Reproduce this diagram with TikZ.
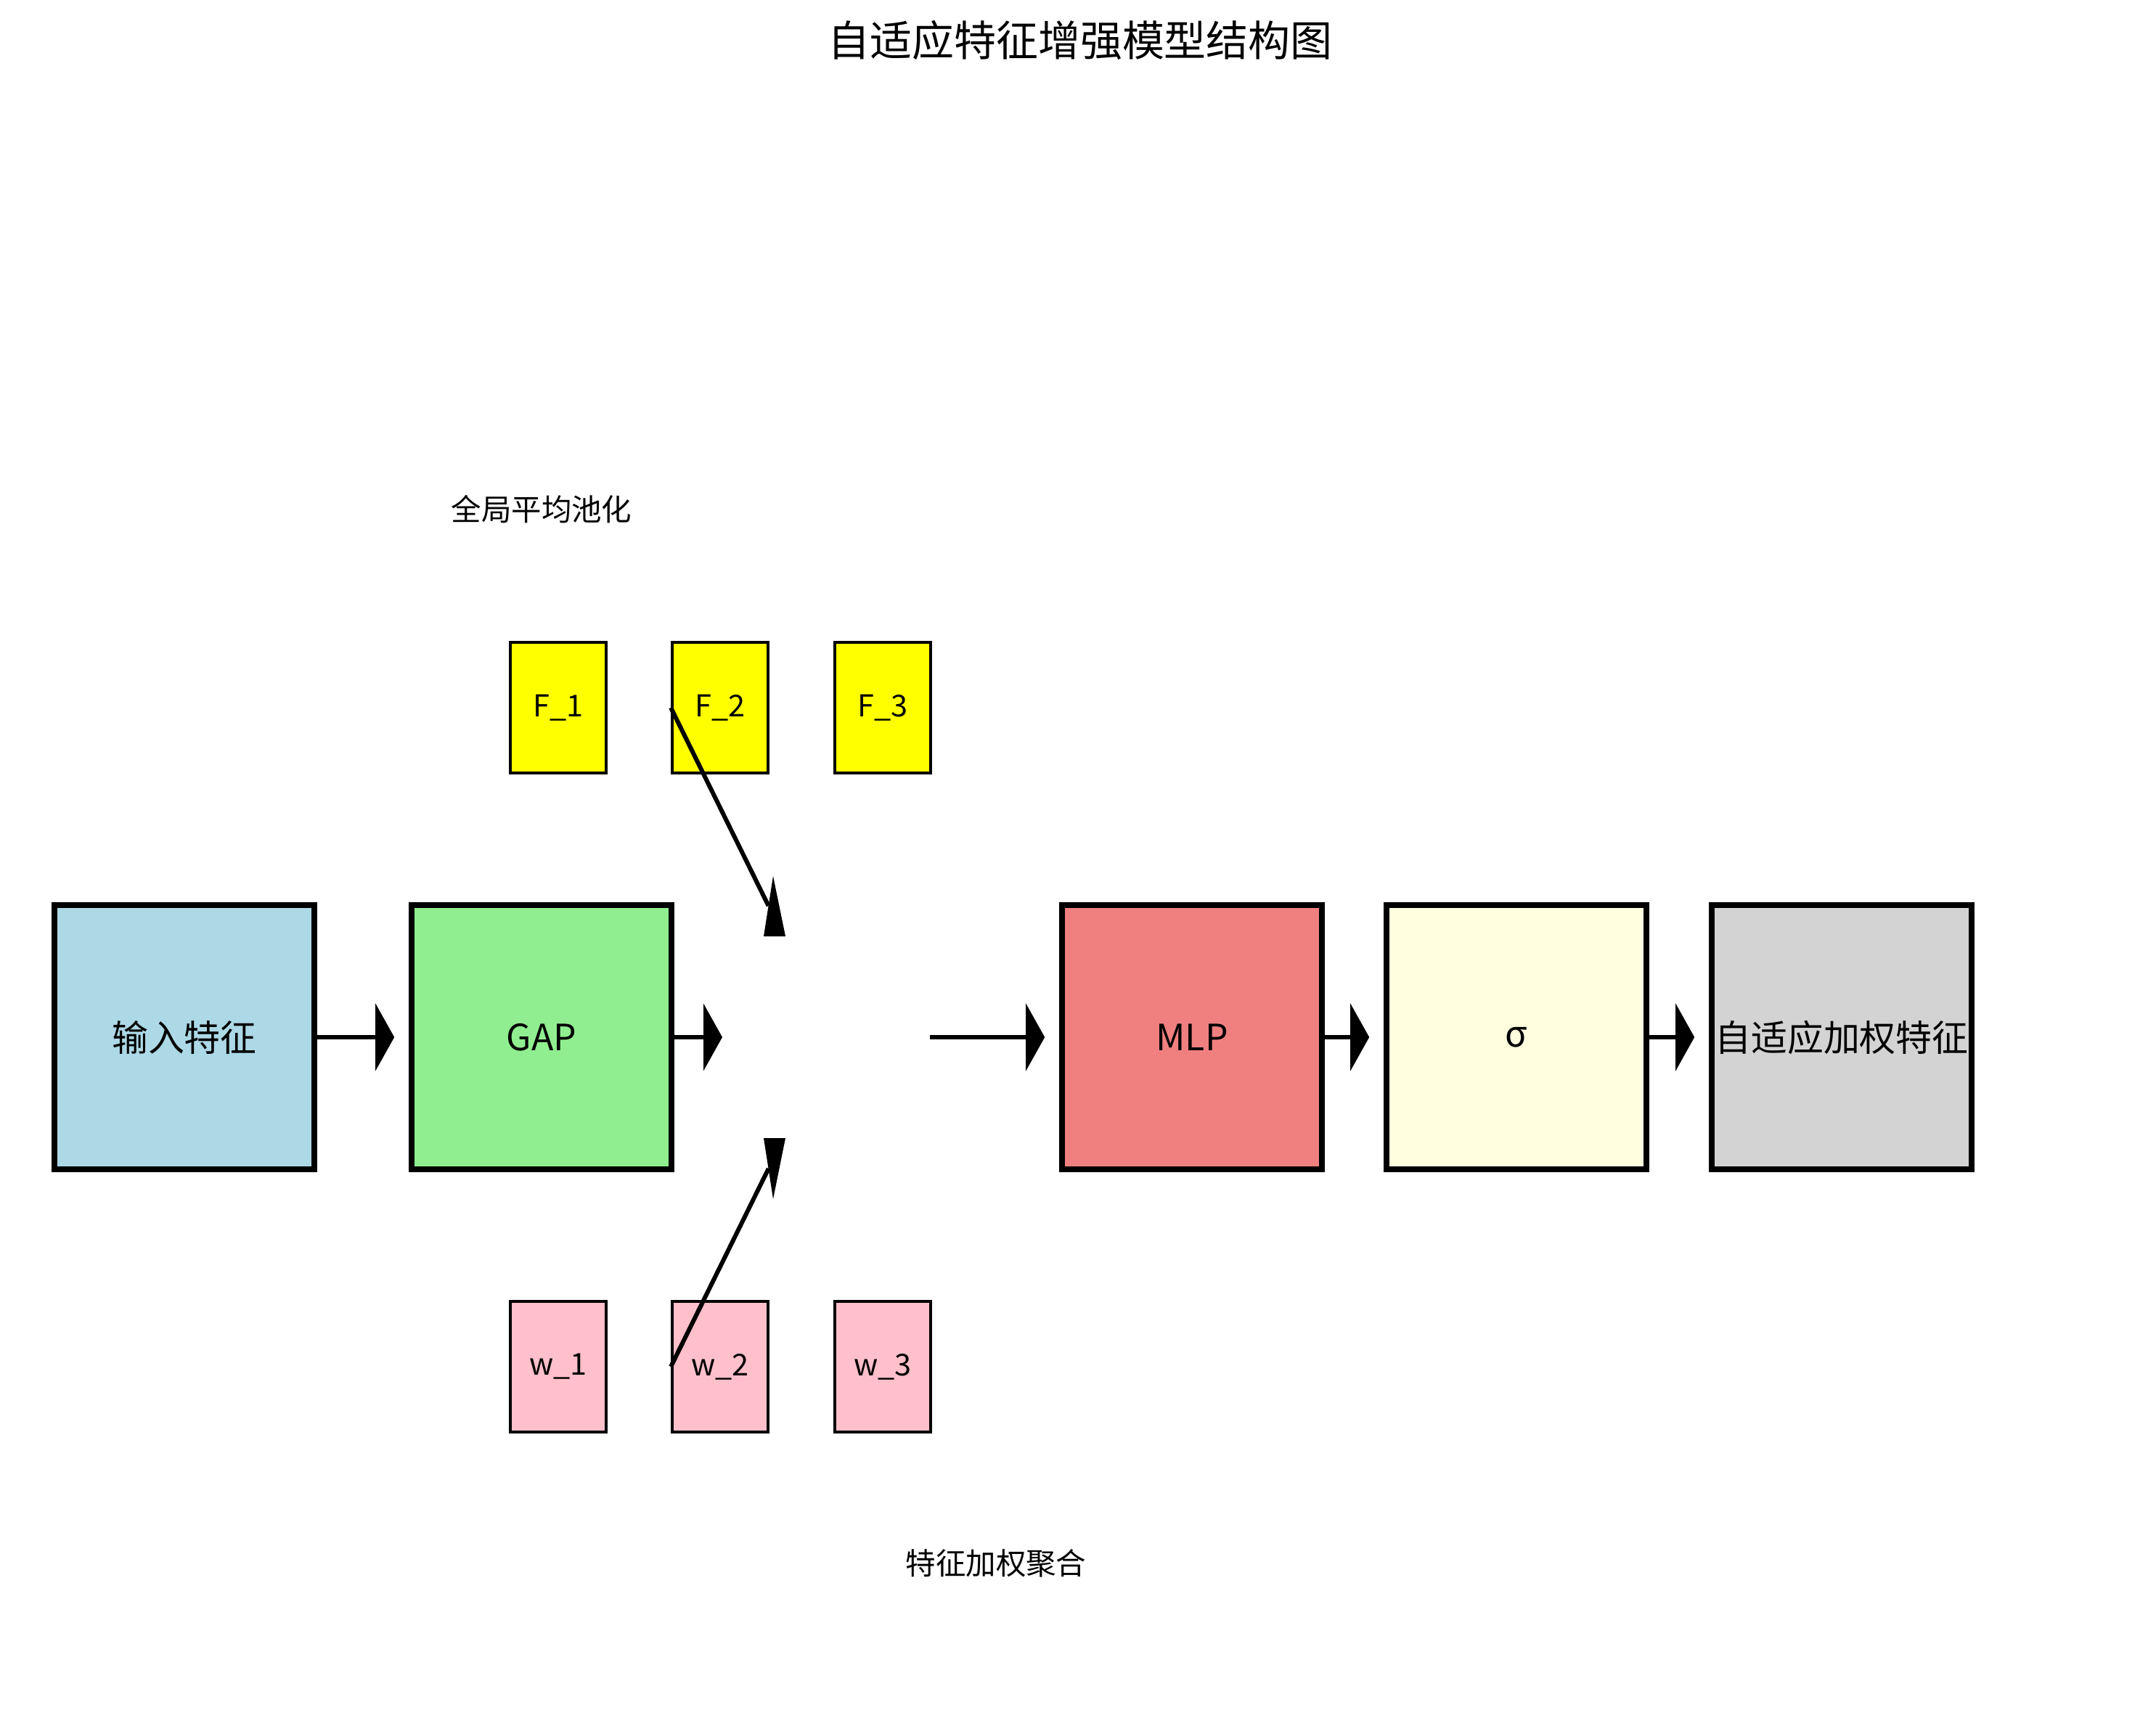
\documentclass[tikz,border=0pt]{standalone}
\usepackage{fontspec}
\setmainfont{Noto Sans CJK SC}
\usetikzlibrary{positioning, arrows.meta}
\definecolor{cInput}{HTML}{ADD8E6}
\definecolor{cGap}{HTML}{90EE90}
\definecolor{cMlp}{HTML}{F08080}
\definecolor{cSigma}{HTML}{FFFFE0}
\definecolor{cOut}{HTML}{D3D3D3}
\definecolor{cFeat}{HTML}{FFFF00}
\definecolor{cWeight}{HTML}{FFC0CB}

\begin{document}
\begin{tikzpicture}[
  every node/.style={align=center},
  stage/.style={
    draw,
    line width=0.76mm,
    minimum width=3.58cm,
    minimum height=3.64cm,
    inner sep=0pt,
    font=\fontsize{14.2pt}{17pt}\selectfont
  },
  chip/.style={
    draw,
    line width=0.38mm,
    minimum width=1.32cm,
    minimum height=1.80cm,
    inner sep=0pt,
    font=\fontsize{11.8pt}{14pt}\selectfont
  },
  caption/.style={font=\fontsize{11.8pt}{14pt}\selectfont},
  link/.style={draw, line width=0.65mm, -{Triangle[length=2.6mm, width=9.2mm]}, shorten >=2mm},
  feed/.style={draw, line width=0.6mm}
]

\useasboundingbox (0,0) rectangle (29.70,-23.67);

\node[font=\fontsize{16.5pt}{20pt}\selectfont] (title) at (14.88,-0.55) {自适应特征增强模型结构图};

\node[stage, fill=cInput] (input) at (2.54,-14.29) {输入特征};
\node[stage, fill=cGap]   (gap)   at (7.46,-14.29) {GAP};
\node[stage, fill=cMlp]   (mlp)   at (16.42,-14.29) {MLP};
\node[stage, fill=cSigma] (sigma) at (20.89,-14.29) {σ};
\node[stage, fill=cOut]   (out)   at (25.37,-14.29) {自适应加权特征};

\node[caption] (pool) at (7.46,-7.02) {全局平均池化};
\node[caption] (agg)  at (13.72,-21.54) {特征加权聚合};

\node[chip, fill=cFeat] (f1) at (7.69,-9.75) {F\_1};
\node[chip, fill=cFeat] (f2) at (9.92,-9.75) {F\_2};
\node[chip, fill=cFeat] (f3) at (12.16,-9.75) {F\_3};

\node[chip, fill=cWeight] (w1) at (7.69,-18.83) {w\_1};
\node[chip, fill=cWeight] (w2) at (9.92,-18.83) {w\_2};
\node[chip, fill=cWeight] (w3) at (12.16,-18.83) {w\_3};

\coordinate (mixin)  at (10.15,-14.29);
\coordinate (mixout) at (12.81,-14.29);
\coordinate (topjoin) at (10.586,-12.48);
\coordinate (botjoin) at (10.587,-16.10);

\draw[link] (input) -- (gap);
\draw[link] (gap) -- (mixin);
\draw[link] (mixout) -- (mlp);
\draw[link] (mlp) -- (sigma);
\draw[link] (sigma) -- (out);

\draw[feed] (f2.west) -- (topjoin);
\fill (topjoin) ++(0.064,0.41) -- ++(-0.13,-0.83) -- ++(0.30,0) -- cycle;
\draw[feed] (w2.west) -- (botjoin);
\fill (botjoin) ++(0.063,-0.42) -- ++(-0.13,0.84) -- ++(0.30,0) -- cycle;

\end{tikzpicture}
\end{document}
